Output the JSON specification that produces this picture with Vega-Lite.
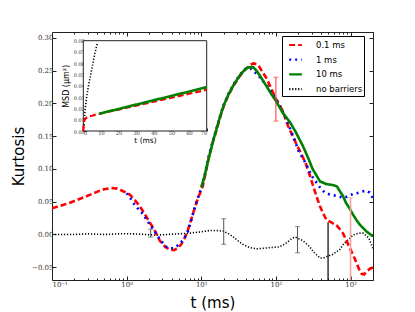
{
  "$schema": "https://vega.github.io/schema/vega-lite/v6.json",
  "width": 321,
  "height": 248,
  "autosize": "none",
  "padding": {"left": 52, "top": 32, "right": 42, "bottom": 32},
  "background": "white",
  "config": {
    "view": {"stroke": "#222", "strokeWidth": 1},
    "axis": {"labelFont": "DejaVu Serif", "labelColor": "#333", "tickColor": "#222", "grid": false, "domain": false, "titleFont": "DejaVu Sans", "titleFontWeight": "normal", "titleColor": "#000"}
  },
  "datasets": {
    "main": [
      {"s": "0.1 ms", "t": 0.1, "k": 0.040}, {"s": "0.1 ms", "t": 0.15, "k": 0.046}, {"s": "0.1 ms", "t": 0.2, "k": 0.051}, {"s": "0.1 ms", "t": 0.3, "k": 0.059}, {"s": "0.1 ms", "t": 0.4, "k": 0.065}, {"s": "0.1 ms", "t": 0.5, "k": 0.069}, {"s": "0.1 ms", "t": 0.62, "k": 0.071}, {"s": "0.1 ms", "t": 0.75, "k": 0.070}, {"s": "0.1 ms", "t": 0.9, "k": 0.066}, {"s": "0.1 ms", "t": 1.1, "k": 0.061}, {"s": "0.1 ms", "t": 1.3, "k": 0.052}, {"s": "0.1 ms", "t": 1.5, "k": 0.043}, {"s": "0.1 ms", "t": 1.75, "k": 0.031}, {"s": "0.1 ms", "t": 2.05, "k": 0.018}, {"s": "0.1 ms", "t": 2.4, "k": 0.005}, {"s": "0.1 ms", "t": 2.8, "k": -0.010}, {"s": "0.1 ms", "t": 3.3, "k": -0.019}, {"s": "0.1 ms", "t": 3.8, "k": -0.023}, {"s": "0.1 ms", "t": 4.3, "k": -0.024}, {"s": "0.1 ms", "t": 4.8, "k": -0.021}, {"s": "0.1 ms", "t": 5.4, "k": -0.015}, {"s": "0.1 ms", "t": 6.0, "k": -0.005}, {"s": "0.1 ms", "t": 6.5, "k": 0.004}, {"s": "0.1 ms", "t": 7.2, "k": 0.020}, {"s": "0.1 ms", "t": 7.8, "k": 0.033}, {"s": "0.1 ms", "t": 8.7, "k": 0.050}, {"s": "0.1 ms", "t": 9.6, "k": 0.063}, {"s": "0.1 ms", "t": 10.5, "k": 0.074}, {"s": "0.1 ms", "t": 12.5, "k": 0.115}, {"s": "0.1 ms", "t": 14.2, "k": 0.140}, {"s": "0.1 ms", "t": 16.2, "k": 0.161}, {"s": "0.1 ms", "t": 18, "k": 0.180}, {"s": "0.1 ms", "t": 20, "k": 0.196}, {"s": "0.1 ms", "t": 23, "k": 0.212}, {"s": "0.1 ms", "t": 27, "k": 0.227}, {"s": "0.1 ms", "t": 33, "k": 0.242}, {"s": "0.1 ms", "t": 40, "k": 0.253}, {"s": "0.1 ms", "t": 46, "k": 0.259}, {"s": "0.1 ms", "t": 50, "k": 0.261}, {"s": "0.1 ms", "t": 55, "k": 0.260}, {"s": "0.1 ms", "t": 59, "k": 0.257}, {"s": "0.1 ms", "t": 67, "k": 0.247}, {"s": "0.1 ms", "t": 76, "k": 0.237}, {"s": "0.1 ms", "t": 87, "k": 0.222}, {"s": "0.1 ms", "t": 100, "k": 0.207}, {"s": "0.1 ms", "t": 123, "k": 0.189}, {"s": "0.1 ms", "t": 145, "k": 0.166}, {"s": "0.1 ms", "t": 165, "k": 0.152}, {"s": "0.1 ms", "t": 185, "k": 0.140}, {"s": "0.1 ms", "t": 210, "k": 0.127}, {"s": "0.1 ms", "t": 250, "k": 0.109}, {"s": "0.1 ms", "t": 285, "k": 0.090}, {"s": "0.1 ms", "t": 316, "k": 0.074}, {"s": "0.1 ms", "t": 350, "k": 0.058}, {"s": "0.1 ms", "t": 390, "k": 0.043}, {"s": "0.1 ms", "t": 430, "k": 0.032}, {"s": "0.1 ms", "t": 475, "k": 0.0225}, {"s": "0.1 ms", "t": 560, "k": 0.018}, {"s": "0.1 ms", "t": 650, "k": 0.014}, {"s": "0.1 ms", "t": 720, "k": 0.008}, {"s": "0.1 ms", "t": 790, "k": 0.002}, {"s": "0.1 ms", "t": 880, "k": -0.009}, {"s": "0.1 ms", "t": 980, "k": -0.021}, {"s": "0.1 ms", "t": 1100, "k": -0.033}, {"s": "0.1 ms", "t": 1210, "k": -0.044}, {"s": "0.1 ms", "t": 1300, "k": -0.053}, {"s": "0.1 ms", "t": 1410, "k": -0.060}, {"s": "0.1 ms", "t": 1520, "k": -0.061}, {"s": "0.1 ms", "t": 1650, "k": -0.056}, {"s": "0.1 ms", "t": 1800, "k": -0.053}, {"s": "0.1 ms", "t": 2000, "k": -0.050},
      {"s": "1 ms", "t": 1.0, "k": 0.063}, {"s": "1 ms", "t": 1.1, "k": 0.057}, {"s": "1 ms", "t": 1.23, "k": 0.048}, {"s": "1 ms", "t": 1.45, "k": 0.038}, {"s": "1 ms", "t": 1.67, "k": 0.031}, {"s": "1 ms", "t": 1.85, "k": 0.022}, {"s": "1 ms", "t": 2.05, "k": 0.015}, {"s": "1 ms", "t": 2.4, "k": 0.004}, {"s": "1 ms", "t": 2.8, "k": -0.008}, {"s": "1 ms", "t": 3.1, "k": -0.014}, {"s": "1 ms", "t": 3.4, "k": -0.019}, {"s": "1 ms", "t": 3.8, "k": -0.021}, {"s": "1 ms", "t": 4.2, "k": -0.021}, {"s": "1 ms", "t": 4.7, "k": -0.018}, {"s": "1 ms", "t": 5.3, "k": -0.013}, {"s": "1 ms", "t": 5.9, "k": -0.006}, {"s": "1 ms", "t": 6.5, "k": 0.002}, {"s": "1 ms", "t": 7.2, "k": 0.018}, {"s": "1 ms", "t": 7.8, "k": 0.033}, {"s": "1 ms", "t": 8.7, "k": 0.050}, {"s": "1 ms", "t": 9.6, "k": 0.065}, {"s": "1 ms", "t": 10.5, "k": 0.078}, {"s": "1 ms", "t": 12.5, "k": 0.118}, {"s": "1 ms", "t": 14.2, "k": 0.142}, {"s": "1 ms", "t": 16.2, "k": 0.164}, {"s": "1 ms", "t": 18, "k": 0.182}, {"s": "1 ms", "t": 20, "k": 0.198}, {"s": "1 ms", "t": 23, "k": 0.214}, {"s": "1 ms", "t": 27, "k": 0.229}, {"s": "1 ms", "t": 33, "k": 0.244}, {"s": "1 ms", "t": 40, "k": 0.254}, {"s": "1 ms", "t": 46, "k": 0.253}, {"s": "1 ms", "t": 52, "k": 0.248}, {"s": "1 ms", "t": 59, "k": 0.242}, {"s": "1 ms", "t": 67, "k": 0.234}, {"s": "1 ms", "t": 76, "k": 0.227}, {"s": "1 ms", "t": 87, "k": 0.217}, {"s": "1 ms", "t": 100, "k": 0.207}, {"s": "1 ms", "t": 123, "k": 0.188}, {"s": "1 ms", "t": 145, "k": 0.170}, {"s": "1 ms", "t": 170, "k": 0.150}, {"s": "1 ms", "t": 200, "k": 0.128}, {"s": "1 ms", "t": 250, "k": 0.109}, {"s": "1 ms", "t": 300, "k": 0.090}, {"s": "1 ms", "t": 350, "k": 0.079}, {"s": "1 ms", "t": 400, "k": 0.070}, {"s": "1 ms", "t": 450, "k": 0.064}, {"s": "1 ms", "t": 525, "k": 0.061}, {"s": "1 ms", "t": 590, "k": 0.060}, {"s": "1 ms", "t": 700, "k": 0.058}, {"s": "1 ms", "t": 790, "k": 0.056}, {"s": "1 ms", "t": 870, "k": 0.057}, {"s": "1 ms", "t": 980, "k": 0.060}, {"s": "1 ms", "t": 1100, "k": 0.062}, {"s": "1 ms", "t": 1210, "k": 0.063}, {"s": "1 ms", "t": 1400, "k": 0.065}, {"s": "1 ms", "t": 1620, "k": 0.067}, {"s": "1 ms", "t": 1800, "k": 0.064}, {"s": "1 ms", "t": 2000, "k": 0.055},
      {"s": "10 ms", "t": 10, "k": 0.072}, {"s": "10 ms", "t": 11, "k": 0.088}, {"s": "10 ms", "t": 12.5, "k": 0.115}, {"s": "10 ms", "t": 14.2, "k": 0.140}, {"s": "10 ms", "t": 16.2, "k": 0.163}, {"s": "10 ms", "t": 18, "k": 0.181}, {"s": "10 ms", "t": 20, "k": 0.197}, {"s": "10 ms", "t": 23, "k": 0.213}, {"s": "10 ms", "t": 27, "k": 0.228}, {"s": "10 ms", "t": 33, "k": 0.243}, {"s": "10 ms", "t": 38, "k": 0.251}, {"s": "10 ms", "t": 42, "k": 0.255}, {"s": "10 ms", "t": 50, "k": 0.255}, {"s": "10 ms", "t": 54, "k": 0.251}, {"s": "10 ms", "t": 59, "k": 0.245}, {"s": "10 ms", "t": 67, "k": 0.235}, {"s": "10 ms", "t": 76, "k": 0.225}, {"s": "10 ms", "t": 87, "k": 0.214}, {"s": "10 ms", "t": 100, "k": 0.204}, {"s": "10 ms", "t": 123, "k": 0.186}, {"s": "10 ms", "t": 155, "k": 0.171}, {"s": "10 ms", "t": 185, "k": 0.156}, {"s": "10 ms", "t": 230, "k": 0.135}, {"s": "10 ms", "t": 270, "k": 0.117}, {"s": "10 ms", "t": 310, "k": 0.100}, {"s": "10 ms", "t": 350, "k": 0.090}, {"s": "10 ms", "t": 390, "k": 0.081}, {"s": "10 ms", "t": 430, "k": 0.079}, {"s": "10 ms", "t": 470, "k": 0.077}, {"s": "10 ms", "t": 540, "k": 0.076}, {"s": "10 ms", "t": 600, "k": 0.075}, {"s": "10 ms", "t": 660, "k": 0.073}, {"s": "10 ms", "t": 710, "k": 0.067}, {"s": "10 ms", "t": 790, "k": 0.059}, {"s": "10 ms", "t": 870, "k": 0.048}, {"s": "10 ms", "t": 970, "k": 0.040}, {"s": "10 ms", "t": 1070, "k": 0.031}, {"s": "10 ms", "t": 1200, "k": 0.022}, {"s": "10 ms", "t": 1330, "k": 0.015}, {"s": "10 ms", "t": 1470, "k": 0.010}, {"s": "10 ms", "t": 1620, "k": 0.005}, {"s": "10 ms", "t": 1800, "k": 0.001}, {"s": "10 ms", "t": 2000, "k": -0.003},
      {"s": "no barriers", "t": 0.1, "k": 0.000}, {"s": "no barriers", "t": 0.2, "k": 0.000}, {"s": "no barriers", "t": 0.3, "k": 0.001}, {"s": "no barriers", "t": 0.5, "k": 0.000}, {"s": "no barriers", "t": 0.8, "k": 0.001}, {"s": "no barriers", "t": 1.2, "k": 0.001}, {"s": "no barriers", "t": 1.8, "k": 0.000}, {"s": "no barriers", "t": 2.5, "k": -0.001}, {"s": "no barriers", "t": 3.5, "k": 0.000}, {"s": "no barriers", "t": 5, "k": 0.001}, {"s": "no barriers", "t": 7, "k": 0.002}, {"s": "no barriers", "t": 10, "k": 0.004}, {"s": "no barriers", "t": 13, "k": 0.006}, {"s": "no barriers", "t": 16, "k": 0.006}, {"s": "no barriers", "t": 20, "k": 0.005}, {"s": "no barriers", "t": 24, "k": 0.000}, {"s": "no barriers", "t": 27, "k": -0.004}, {"s": "no barriers", "t": 32, "k": -0.011}, {"s": "no barriers", "t": 37, "k": -0.016}, {"s": "no barriers", "t": 45, "k": -0.020}, {"s": "no barriers", "t": 55, "k": -0.022}, {"s": "no barriers", "t": 70, "k": -0.021}, {"s": "no barriers", "t": 84, "k": -0.020}, {"s": "no barriers", "t": 110, "k": -0.019}, {"s": "no barriers", "t": 130, "k": -0.015}, {"s": "no barriers", "t": 145, "k": -0.011}, {"s": "no barriers", "t": 165, "k": -0.006}, {"s": "no barriers", "t": 180, "k": -0.004}, {"s": "no barriers", "t": 200, "k": -0.006}, {"s": "no barriers", "t": 225, "k": -0.009}, {"s": "no barriers", "t": 250, "k": -0.013}, {"s": "no barriers", "t": 285, "k": -0.019}, {"s": "no barriers", "t": 316, "k": -0.026}, {"s": "no barriers", "t": 350, "k": -0.031}, {"s": "no barriers", "t": 390, "k": -0.036}, {"s": "no barriers", "t": 430, "k": -0.036}, {"s": "no barriers", "t": 500, "k": -0.033}, {"s": "no barriers", "t": 590, "k": -0.030}, {"s": "no barriers", "t": 650, "k": -0.026}, {"s": "no barriers", "t": 710, "k": -0.024}, {"s": "no barriers", "t": 790, "k": -0.016}, {"s": "no barriers", "t": 870, "k": -0.011}, {"s": "no barriers", "t": 980, "k": -0.006}, {"s": "no barriers", "t": 1070, "k": -0.001}, {"s": "no barriers", "t": 1210, "k": 0.001}, {"s": "no barriers", "t": 1330, "k": 0.002}, {"s": "no barriers", "t": 1470, "k": 0.002}, {"s": "no barriers", "t": 1620, "k": -0.002}, {"s": "no barriers", "t": 1750, "k": -0.005}, {"s": "no barriers", "t": 1900, "k": -0.015}, {"s": "no barriers", "t": 2000, "k": -0.021}
    ],
    "errs": [
      {"g": "gray", "t": 2.1, "k": -0.004, "k2": 0.008},
      {"g": "gray", "t": 20, "k": -0.015, "k2": 0.024},
      {"g": "gray", "t": 195, "k": -0.028, "k2": 0.012},
      {"g": "red", "t": 100, "k": 0.173, "k2": 0.240},
      {"g": "black", "t": 500, "k": -0.2, "k2": 0.0185},
      {"g": "pink", "t": 1000, "k": -0.2, "k2": 0.056}
    ],
    "inset": [
      {"s": "no barriers", "t": 0, "m": 0.0}, {"s": "no barriers", "t": 0.5, "m": 0.007}, {"s": "no barriers", "t": 1.0, "m": 0.0186}, {"s": "no barriers", "t": 1.9, "m": 0.030}, {"s": "no barriers", "t": 2.8, "m": 0.039}, {"s": "no barriers", "t": 4.7, "m": 0.054}, {"s": "no barriers", "t": 6.6, "m": 0.069}, {"s": "no barriers", "t": 8, "m": 0.078},
      {"s": "0.1 ms", "t": 0, "m": 0.0}, {"s": "0.1 ms", "t": 0.2, "m": 0.006}, {"s": "0.1 ms", "t": 0.5, "m": 0.009}, {"s": "0.1 ms", "t": 1, "m": 0.0105}, {"s": "0.1 ms", "t": 2, "m": 0.012}, {"s": "0.1 ms", "t": 3, "m": 0.013}, {"s": "0.1 ms", "t": 5, "m": 0.0135}, {"s": "0.1 ms", "t": 7, "m": 0.0145}, {"s": "0.1 ms", "t": 10, "m": 0.0155}, {"s": "0.1 ms", "t": 20, "m": 0.019}, {"s": "0.1 ms", "t": 30, "m": 0.0225}, {"s": "0.1 ms", "t": 40, "m": 0.026}, {"s": "0.1 ms", "t": 50, "m": 0.0295}, {"s": "0.1 ms", "t": 60, "m": 0.033}, {"s": "0.1 ms", "t": 70, "m": 0.0365},
      {"s": "10 ms", "t": 9, "m": 0.0153}, {"s": "10 ms", "t": 70, "m": 0.0388}
    ]
  },
  "layer": [
    {
      "encoding": {
        "x": {"field": "t", "type": "quantitative", "scale": {"type": "log", "domain": [0.1, 2000]},
          "axis": {"title": "t (ms)", "titleFontSize": 15, "titlePadding": 8, "labelFontSize": 7, "labelPadding": 4,
            "values": [0.1,0.2,0.3,0.4,0.5,0.6,0.7,0.8,0.9,1,2,3,4,5,6,7,8,9,10,20,30,40,50,60,70,80,90,100,200,300,400,500,600,700,800,900,1000,2000],
            "labelExpr": "datum.value == 0.1 ? '10⁻¹' : datum.value == 1 ? '10⁰' : datum.value == 10 ? '10¹' : datum.value == 100 ? '10²' : datum.value == 1000 ? '10³' : ''",
            "tickSize": {"condition": {"test": "indexof([0.1,1,10,100,1000], datum.value) >= 0", "value": -4}, "value": -2}}},
        "y": {"field": "k", "type": "quantitative", "scale": {"domain": [-0.0695, 0.309], "nice": false, "zero": false},
          "axis": {"title": "Kurtosis", "titleFontSize": 15, "titlePadding": 5, "labelFontSize": 7, "labelPadding": 3, "tickSize": -4, "format": ".2f",
            "values": [-0.05, 0, 0.05, 0.1, 0.15, 0.2, 0.25, 0.3]}}
      },
      "layer": [
        {"data": {"name": "main"}, "transform": [{"filter": "datum.s == 'no barriers'"}],
          "mark": {"type": "line", "strokeWidth": 1.6, "clip": true},
          "encoding": {
            "color": {"field": "s", "type": "nominal", "scale": {"domain": ["0.1 ms", "1 ms", "10 ms", "no barriers"], "range": ["#ff0000", "#0000ff", "#008000", "#000000"]},
              "legend": {"title": null, "orient": "none", "legendX": 230, "legendY": 4, "strokeColor": "#000", "fillColor": "#fff", "padding": 1.5, "symbolOffset": 4.5, "labelFont": "DejaVu Sans", "labelFontSize": 8.5, "labelColor": "#000", "symbolType": "stroke", "symbolSize": 160, "symbolStrokeWidth": 2.2, "labelOffset": 13, "rowPadding": 2.7}},
            "strokeDash": {"field": "s", "type": "nominal", "scale": {"domain": ["0.1 ms", "1 ms", "10 ms", "no barriers"], "range": [[6, 3], [2, 4], [1, 0], [1.2, 1.8]]},
              "legend": {"title": null, "orient": "none", "legendX": 230, "legendY": 4, "strokeColor": "#000", "fillColor": "#fff", "padding": 1.5, "symbolOffset": 4.5, "labelFont": "DejaVu Sans", "labelFontSize": 8.5, "labelColor": "#000", "symbolType": "stroke", "symbolSize": 160, "symbolStrokeWidth": 2.2, "labelOffset": 13, "rowPadding": 2.7}}
          }},
        {"data": {"name": "main"}, "transform": [{"filter": "datum.s == '0.1 ms'"}],
          "mark": {"type": "line", "strokeWidth": 2.6, "clip": true},
          "encoding": {"color": {"field": "s", "type": "nominal"}, "strokeDash": {"field": "s", "type": "nominal"}}},
        {"data": {"name": "main"}, "transform": [{"filter": "datum.s == '1 ms'"}],
          "mark": {"type": "line", "strokeWidth": 2.6, "clip": true},
          "encoding": {"color": {"field": "s", "type": "nominal"}, "strokeDash": {"field": "s", "type": "nominal"}}},
        {"data": {"name": "main"}, "transform": [{"filter": "datum.s == '10 ms'"}],
          "mark": {"type": "line", "strokeWidth": 2.6, "clip": true},
          "encoding": {"color": {"field": "s", "type": "nominal"}, "strokeDash": {"field": "s", "type": "nominal"}}},
        {"data": {"name": "errs"}, "transform": [{"filter": "datum.g == 'gray'"}],
          "mark": {"type": "rule", "color": "#555", "strokeWidth": 1, "clip": true},
          "encoding": {"y2": {"field": "k2"}}},
        {"data": {"name": "errs"}, "transform": [{"filter": "datum.g == 'gray'"}],
          "mark": {"type": "tick", "orient": "horizontal", "color": "#555", "size": 5, "thickness": 1, "clip": true},
          "encoding": {}},
        {"data": {"name": "errs"}, "transform": [{"filter": "datum.g == 'gray'"}],
          "mark": {"type": "tick", "orient": "horizontal", "color": "#555", "size": 5, "thickness": 1, "clip": true},
          "encoding": {"y": {"field": "k2", "type": "quantitative", "scale": {"domain": [-0.0695, 0.309], "nice": false, "zero": false}}}},
        {"data": {"name": "errs"}, "transform": [{"filter": "datum.g == 'red'"}],
          "mark": {"type": "rule", "color": "#ff3030", "strokeWidth": 1, "clip": true},
          "encoding": {"y2": {"field": "k2"}}},
        {"data": {"name": "errs"}, "transform": [{"filter": "datum.g == 'red'"}],
          "mark": {"type": "tick", "orient": "horizontal", "color": "#ff3030", "size": 5, "thickness": 1, "clip": true},
          "encoding": {}},
        {"data": {"name": "errs"}, "transform": [{"filter": "datum.g == 'red'"}],
          "mark": {"type": "tick", "orient": "horizontal", "color": "#ff3030", "size": 5, "thickness": 1, "clip": true},
          "encoding": {"y": {"field": "k2", "type": "quantitative", "scale": {"domain": [-0.0695, 0.309], "nice": false, "zero": false}}}},
        {"data": {"name": "errs"}, "transform": [{"filter": "datum.g == 'black'"}],
          "mark": {"type": "rule", "color": "#000", "strokeWidth": 1.2, "clip": true},
          "encoding": {"y2": {"field": "k2"}}},
        {"data": {"name": "errs"}, "transform": [{"filter": "datum.g == 'pink'"}],
          "mark": {"type": "rule", "color": "#f4a0a0", "strokeWidth": 1.6, "clip": true},
          "encoding": {"y2": {"field": "k2"}}},
        {"data": {"name": "errs"}, "transform": [{"filter": "datum.g == 'pink'"}],
          "mark": {"type": "tick", "orient": "horizontal", "color": "#f4a0a0", "size": 5, "thickness": 1, "clip": true},
          "encoding": {"y": {"field": "k2", "type": "quantitative", "scale": {"domain": [-0.0695, 0.309], "nice": false, "zero": false}}}}
      ]
    },
    {
      "data": {"values": [{"t": 0.1, "k": 0}]},
      "mark": {"type": "point", "opacity": 0},
      "encoding": {
        "x": {"field": "t", "type": "quantitative", "scale": {"type": "log", "domain": [0.1, 2000]},
          "axis": {"orient": "top", "title": null, "labels": false,
            "values": [0.1,0.2,0.3,0.4,0.5,0.6,0.7,0.8,0.9,1,2,3,4,5,6,7,8,9,10,20,30,40,50,60,70,80,90,100,200,300,400,500,600,700,800,900,1000,2000],
            "tickSize": {"condition": {"test": "indexof([0.1,1,10,100,1000], datum.value) >= 0", "value": -4}, "value": -2}}},
        "y": {"field": "k", "type": "quantitative", "scale": {"domain": [-0.0695, 0.309], "nice": false, "zero": false},
          "axis": {"orient": "right", "title": null, "labels": false, "tickSize": -4, "values": [-0.05, 0, 0.05, 0.1, 0.15, 0.2, 0.25, 0.3]}}
      }
    },
    {
      "encoding": {
        "x": {"field": "t", "type": "quantitative", "scale": {"domain": [0, 70], "range": [31.3, 154.7], "nice": false, "zero": false},
          "axis": {"orient": "bottom", "offset": -149, "title": "t (ms)", "titleFontSize": 7.5, "titlePadding": 1, "labelFontSize": 5, "labelPadding": 2, "tickSize": -3,
            "values": [0, 10, 20, 30, 40, 50, 60, 70]}},
        "y": {"field": "m", "type": "quantitative", "scale": {"domain": [0, 0.08], "range": [99, 8.7], "nice": false, "zero": false},
          "axis": {"orient": "left", "offset": -31.3, "title": "MSD (μm²)", "titleFontSize": 8, "titlePadding": 3, "labelFontSize": 5, "labelPadding": 2, "tickSize": -3, "format": ".2f",
            "values": [0, 0.01, 0.02, 0.03, 0.04, 0.05, 0.06, 0.07, 0.08]}}
      },
      "layer": [
        {"data": {"values": [{"t": 0, "t2": 70, "m": 0, "m2": 0.08}]},
          "mark": {"type": "rect", "fill": "#fff", "stroke": "#222", "strokeWidth": 1},
          "encoding": {"x2": {"field": "t2"}, "y2": {"field": "m2"}}},
        {"data": {"name": "inset"}, "transform": [{"filter": "datum.s == 'no barriers'"}],
          "mark": {"type": "line", "strokeWidth": 1.6, "clip": true},
          "encoding": {"color": {"field": "s", "type": "nominal"}, "strokeDash": {"field": "s", "type": "nominal"}}},
        {"data": {"name": "inset"}, "transform": [{"filter": "datum.s == '0.1 ms'"}],
          "mark": {"type": "line", "strokeWidth": 2.2, "clip": true},
          "encoding": {"color": {"field": "s", "type": "nominal"}, "strokeDash": {"field": "s", "type": "nominal"}}},
        {"data": {"name": "inset"}, "transform": [{"filter": "datum.s == '10 ms'"}],
          "mark": {"type": "line", "strokeWidth": 2.6, "clip": true},
          "encoding": {"color": {"field": "s", "type": "nominal"}, "strokeDash": {"field": "s", "type": "nominal"}}}
      ]
    }
  ],
  "resolve": {"scale": {"x": "independent", "y": "independent"}}
}
